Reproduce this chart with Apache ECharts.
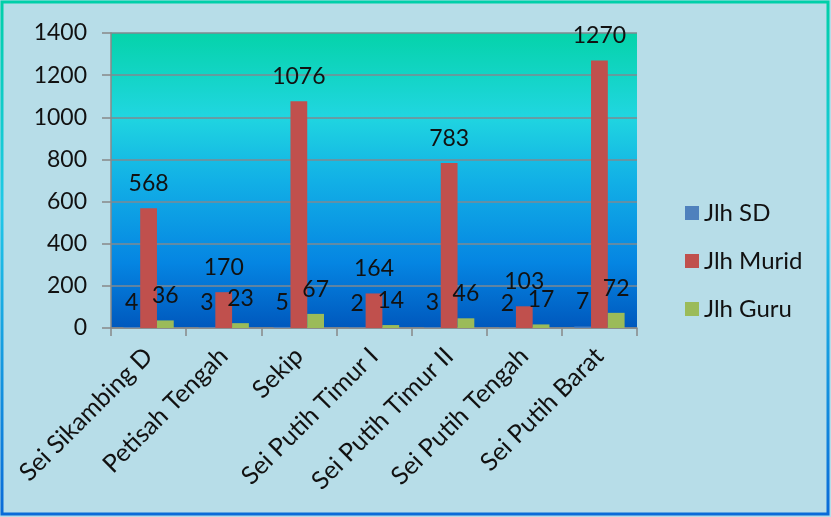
<!DOCTYPE html>
<html>
<head>
<meta charset="utf-8">
<script src="https://cdn.jsdelivr.net/npm/echarts@6/dist/echarts.min.js"></script>
<style>
html,body{margin:0;padding:0;background:#b7dde8;}
#c{width:831px;height:517px;}
</style>
</head>
<body>
<div id="c"></div>
<script>
var categories = ['Sei Sikambing D','Petisah Tengah','Sekip','Sei Putih Timur I','Sei Putih Timur II','Sei Putih Tengah','Sei Putih Barat'];
var jlhSD = [4,3,5,2,3,2,7];
var jlhMurid = [568,170,1076,164,783,103,1270];
var jlhGuru = [36,23,67,14,46,17,72];
var seriesNames = ['Jlh SD','Jlh Murid','Jlh Guru'];
var yTicks = {min:0, max:1400, interval:200};

var FONT = 'Lato, "Open Sans", sans-serif';
var chart = echarts.init(document.getElementById('c'));
var lbl = {show:true, position:'top', distance:13, color:'#111', fontSize:23, fontFamily:FONT};
function mk(name, data, color){
  return {name:name, type:'bar', data:data, barGap:'0%', barCategoryGap:'33%',
    itemStyle:{color:color}, label:lbl};
}
chart.setOption({
  backgroundColor:'#b7dde8',
  animation:false,
  graphic:[{type:'rect', shape:{x:2,y:2,width:826,height:512}, z:-1,
    style:{fill:'none', lineWidth:3, stroke:new echarts.graphic.LinearGradient(0,0,0,1,[
      {offset:0,color:'#00cfa8'},{offset:0.4,color:'#20c8e8'},{offset:1,color:'#0a6ad8'}])}}],
  grid:{left:111, right:194, top:33, bottom:189, show:true, borderWidth:0,
    backgroundColor:new echarts.graphic.LinearGradient(0,0,0,1,[
      {offset:0,color:'#05d3aa'},{offset:0.28,color:'#20d6e0'},{offset:0.5,color:'#12b0e6'},
      {offset:0.78,color:'#0585e2'},{offset:1,color:'#0058bd'}])},
  legend:{orient:'vertical', left:680, top:194, itemWidth:14, itemHeight:14, itemGap:20,
    icon:'rect', data:seriesNames,
    textStyle:{fontSize:24, fontFamily:FONT, color:'#111', lineHeight:28}},
  xAxis:{type:'category', data:categories,
    axisLine:{lineStyle:{color:'#888', width:1.5}},
    axisTick:{show:true, length:8, lineStyle:{color:'#888', width:1.5}},
    axisLabel:{rotate:45, margin:24, fontSize:25, fontFamily:FONT, color:'#111', interval:0}},
  yAxis:{type:'value', min:yTicks.min, max:yTicks.max, interval:yTicks.interval,
    axisLine:{show:true, lineStyle:{color:'#888', width:1.5}},
    axisTick:{show:true, length:9, lineStyle:{color:'#888', width:1.5}},
    axisLabel:{margin:24, fontSize:23, fontFamily:FONT, color:'#111', formatter:function(v){return String(v);}},
    splitLine:{lineStyle:{color:'#7f8a90', width:1.5}}},
  series:[mk(seriesNames[0], jlhSD, '#4f81bd'), mk(seriesNames[1], jlhMurid, '#c0504d'), mk(seriesNames[2], jlhGuru, '#9bbb59')]
});
</script>
</body>
</html>
